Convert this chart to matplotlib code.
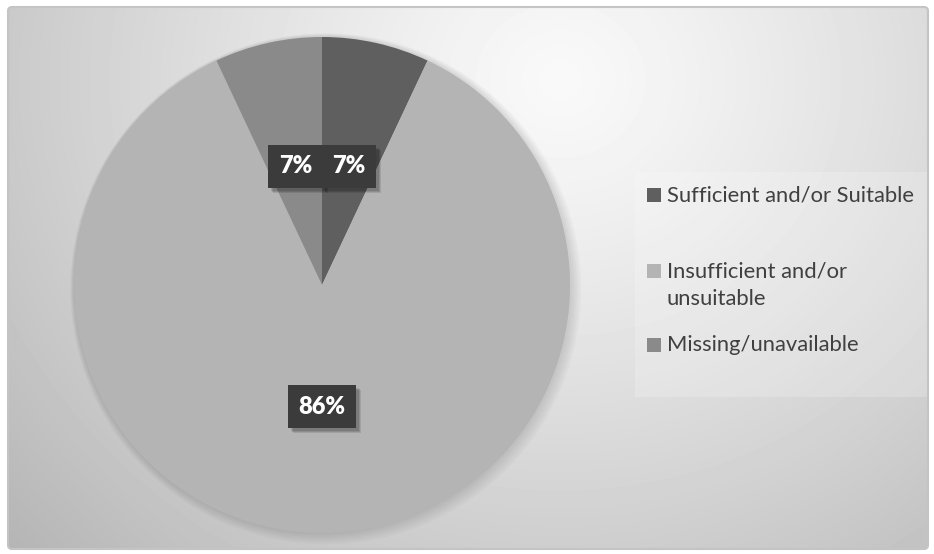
import matplotlib.pyplot as plt
import numpy as np
from matplotlib.patches import FancyBboxPatch, Rectangle, Circle

categories = ["Sufficient and/or Suitable", "Insufficient and/or\nunsuitable", "Missing/unavailable"]
shares = [7, 86, 7]
colors = ["#5f5f5f", "#b4b4b4", "#8a8a8a"]

W, H = 934, 554
fig = plt.figure(figsize=(W / 100, H / 100), dpi=100)
fig.patch.set_facecolor("white")

# background axes in pixel coordinates
bg = fig.add_axes([0, 0, 1, 1])
bg.set_xlim(0, W)
bg.set_ylim(H, 0)
bg.axis("off")

x0, y0, x1, y1 = 8, 7, 928, 549
yy, xx = np.mgrid[y0:y1, x0:x1]
d = np.hypot(xx - 560, (yy - 80) * 1.1)
grad = (249 - 54 * (d / 620) ** 1.2) / 255.0
frame = FancyBboxPatch((x0, y0), x1 - x0, y1 - y0, boxstyle="round,pad=0,rounding_size=4",
                       facecolor="none", edgecolor="#c4c4c4", lw=1.5, zorder=3)
bg.add_patch(frame)
img = bg.imshow(grad, cmap="gray", vmin=0, vmax=1, extent=[x0, x1, y1, y0],
                interpolation="bilinear", zorder=1)
img.set_clip_path(frame)

# legend panel
bg.add_patch(Rectangle((635, 172), 293, 225, facecolor="white", alpha=0.2,
                       edgecolor="none", zorder=2))

# legend
legend_y = [195, 271, 345]
line_gap = 28
for cat, col, ly in zip(categories, colors, legend_y):
    bg.add_patch(Rectangle((647, ly - 7), 14, 14, facecolor=col, edgecolor="none", zorder=4))
    for i, part in enumerate(cat.split("\n")):
        bg.text(667, ly + i * line_gap, part, va="center", ha="left", fontsize=15.8,
                family="Lato", color="#404040", zorder=4)

# pie (axes a bit larger than the pie so the soft shadow is not cut)
cx, cy, r = 322, 285, 248
m = 1.1
ax = fig.add_axes([(cx - r * m) / W, (H - cy - r * m) / H, 2 * r * m / W, 2 * r * m / H])
ax.patch.set_visible(False)
for k in range(6):
    ax.add_patch(Circle((0.003 * k, -0.003 * k), 1.0 + 0.006 * k, facecolor="black",
                        alpha=0.025, edgecolor="none", zorder=0))
wedges, texts, autotexts = ax.pie(shares, colors=colors, startangle=90, counterclock=False,
                                  radius=1, autopct="%.0f%%", pctdistance=0.49,
                                  wedgeprops=dict(linewidth=0),
                                  textprops=dict(color="white", family="Lato",
                                                 fontsize=17, fontweight="heavy"))
ax.set_xlim(-m, m)
ax.set_ylim(-m, m)
ax.axis("off")
for t in autotexts:
    t.set_ha("center")
    t.set_va("center")
    t.set_zorder(5)
    t.set_bbox(dict(boxstyle="square,pad=0.46", facecolor="#3b3b3b", edgecolor="none"))

# drop shadows behind the data label boxes (display coordinates)
fig.canvas.draw()
for t in autotexts:
    bb = t.get_bbox_patch().get_window_extent()
    for k, a in enumerate([0.12, 0.12, 0.1]):
        ax.add_patch(Rectangle((bb.x0 + 3 + k, bb.y0 - 3 - k), bb.width, bb.height,
                               facecolor="black", alpha=a, edgecolor="none",
                               transform=None, zorder=4))

fig.savefig("out.png", dpi=100)
